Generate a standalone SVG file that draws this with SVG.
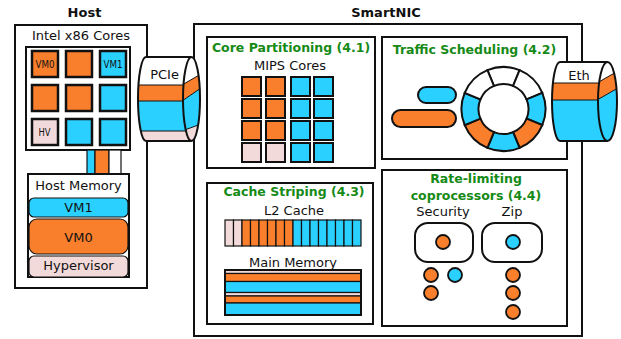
<svg xmlns="http://www.w3.org/2000/svg" width="621" height="339" viewBox="0 0 621 339">
<style>
text{font-family:"DejaVu Sans","Liberation Sans",sans-serif;fill:#111}
.t{font-size:13px;text-anchor:middle}
.h{font-size:13px;font-weight:bold;text-anchor:middle}
.g{font-size:12.5px;font-weight:bold;text-anchor:middle;fill:#168a16}
.sm{font-size:11px}
.box{fill:#fff;stroke:#111;stroke-width:2}
.o{fill:#fa7f2c}
.c{fill:#2ad0ff}
.p{fill:#f3dada}
.w{fill:#fff}
.sq{stroke:#111;stroke-width:2.5}
.ms{stroke:#111;stroke-width:2}
.thin{stroke:#111;stroke-width:1.2}
.ln{stroke:#111;stroke-width:1;fill:none}
.ol{fill:none;stroke:#111;stroke-width:2}
.dot{stroke:#111;stroke-width:1.8}
</style>
<defs>
<clipPath id="pcieBody"><path d="M146,57 H191 V141 H146 A8,42 0 0 1 146,57 Z"/></clipPath>
<clipPath id="pcieFace"><ellipse cx="191.5" cy="99" rx="8.5" ry="42"/></clipPath>
<clipPath id="ethBody"><path d="M560,62 H607.5 V141 H560 A8,39.5 0 0 1 560,62 Z"/></clipPath>
<clipPath id="ethFace"><ellipse cx="607.5" cy="101.5" rx="9.5" ry="39.5"/></clipPath>
</defs>

<g id="host">
<text class="h" x="84.5" y="17">Host</text>
<rect class="box" x="15" y="25" width="132" height="263"/>
<text class="t" x="81" y="40">Intel x86 Cores</text>
</g>

<g id="host-cores">
<rect class="box" x="26" y="47" width="104" height="103"/>
<rect class="o sq" x="32" y="51" width="26" height="26"/>
<rect class="o sq" x="66" y="51" width="26" height="26"/>
<rect class="c sq" x="100" y="51" width="26" height="26"/>
<rect class="o sq" x="32" y="85" width="26" height="26"/>
<rect class="o sq" x="66" y="85" width="26" height="26"/>
<rect class="c sq" x="100" y="85" width="26" height="26"/>
<rect class="p sq" x="32" y="119" width="26" height="26"/>
<rect class="c sq" x="66" y="119" width="26" height="26"/>
<rect class="c sq" x="100" y="119" width="26" height="26"/>
<text class="sm" x="35.5" y="68" textLength="19" lengthAdjust="spacingAndGlyphs">VM0</text>
<text class="sm" x="103.5" y="68" textLength="19" lengthAdjust="spacingAndGlyphs">VM1</text>
<text class="sm" x="38.5" y="136" textLength="12" lengthAdjust="spacingAndGlyphs">HV</text>
</g>

<g id="connectors">
<rect class="c thin" x="87" y="150" width="8" height="24"/>
<rect class="o thin" x="95" y="150" width="14" height="24"/>
<rect class="w thin" x="109" y="150" width="12" height="24"/>
</g>

<g id="host-memory">
<rect class="box" x="28" y="174" width="101" height="103"/>
<text class="t" x="78.5" y="190">Host Memory</text>
<rect class="c thin" x="29" y="198" width="99" height="19" rx="5"/>
<text class="t" x="78.5" y="212">VM1</text>
<rect class="o thin" x="29" y="219" width="99" height="35" rx="8"/>
<text class="t" x="78.5" y="242">VM0</text>
<rect class="p thin" x="29" y="256" width="99" height="21" rx="5"/>
<text class="t" x="78.5" y="270">Hypervisor</text>
</g>

<g id="smartnic">
<text class="h" x="386" y="17">SmartNIC</text>
<rect class="box" x="194" y="24" width="388" height="312"/>
</g>

<g id="core-partitioning">
<rect class="box" x="207" y="37" width="168" height="131"/>
<text class="g" x="291" y="52">Core Partitioning (4.1)</text>
<text class="t" x="290" y="70">MIPS Cores</text>
<rect class="o ms" x="242" y="77" width="19" height="19"/>
<rect class="o ms" x="266" y="77" width="19" height="19"/>
<rect class="c ms" x="291" y="77" width="19" height="19"/>
<rect class="c ms" x="314" y="77" width="19" height="19"/>
<rect class="o ms" x="242" y="99" width="19" height="19"/>
<rect class="o ms" x="266" y="99" width="19" height="19"/>
<rect class="c ms" x="291" y="99" width="19" height="19"/>
<rect class="c ms" x="314" y="99" width="19" height="19"/>
<rect class="o ms" x="242" y="121" width="19" height="19"/>
<rect class="o ms" x="266" y="121" width="19" height="19"/>
<rect class="c ms" x="291" y="121" width="19" height="19"/>
<rect class="c ms" x="314" y="121" width="19" height="19"/>
<rect class="p ms" x="242" y="143" width="19" height="19"/>
<rect class="p ms" x="266" y="143" width="19" height="19"/>
<rect class="c ms" x="291" y="143" width="19" height="19"/>
<rect class="c ms" x="314" y="143" width="19" height="19"/>
</g>

<g id="traffic-scheduling">
<rect class="box" x="382" y="37" width="185" height="122"/>
<text class="g" x="474.5" y="54">Traffic Scheduling (4.2)</text>
<rect class="c ms" x="418" y="87" width="38" height="16" rx="8"/>
<rect class="o ms" x="392" y="110" width="64" height="17" rx="8.5"/>
<g stroke="#111" stroke-width="2">
<path class="w" d="M487.43,70.20 A42,42 0 0 1 519.57,70.20 L513.07,85.90 A25,25 0 0 0 493.93,85.90 Z"/>
<path class="w" d="M519.57,70.20 A42,42 0 0 1 542.30,92.93 L526.60,99.43 A25,25 0 0 0 513.07,85.90 Z"/>
<path class="c" d="M542.30,92.93 A42,42 0 0 1 542.30,125.07 L526.60,118.57 A25,25 0 0 0 526.60,99.43 Z"/>
<path class="o" d="M542.30,125.07 A42,42 0 0 1 519.57,147.80 L513.07,132.10 A25,25 0 0 0 526.60,118.57 Z"/>
<path class="c" d="M519.57,147.80 A42,42 0 0 1 487.43,147.80 L493.93,132.10 A25,25 0 0 0 513.07,132.10 Z"/>
<path class="o" d="M487.43,147.80 A42,42 0 0 1 464.70,125.07 L480.40,118.57 A25,25 0 0 0 493.93,132.10 Z"/>
<path class="c" d="M464.70,125.07 A42,42 0 0 1 464.70,92.93 L480.40,99.43 A25,25 0 0 0 480.40,118.57 Z"/>
<path class="w" d="M464.70,92.93 A42,42 0 0 1 487.43,70.20 L493.93,85.90 A25,25 0 0 0 480.40,99.43 Z"/>
</g>
</g>

<g id="cache-striping">
<rect class="box" x="207" y="183" width="166" height="141"/>
<text class="g" x="294" y="196">Cache Striping (4.3)</text>
<text class="t" x="294" y="215">L2 Cache</text>
<g class="thin">
<rect class="p" x="225" y="220" width="8.5" height="26"/>
<rect class="p" x="233.5" y="220" width="8.5" height="26"/>
<rect class="o" x="242" y="220" width="8.5" height="26"/>
<rect class="o" x="250.5" y="220" width="8.5" height="26"/>
<rect class="o" x="259" y="220" width="8.5" height="26"/>
<rect class="o" x="267.5" y="220" width="8.5" height="26"/>
<rect class="o" x="276" y="220" width="8.5" height="26"/>
<rect class="o" x="284.5" y="220" width="8.5" height="26"/>
<rect class="c" x="293" y="220" width="8.5" height="26"/>
<rect class="c" x="301.5" y="220" width="8.5" height="26"/>
<rect class="c" x="310" y="220" width="8.5" height="26"/>
<rect class="c" x="318.5" y="220" width="8.5" height="26"/>
<rect class="c" x="327" y="220" width="8.5" height="26"/>
<rect class="c" x="335.5" y="220" width="8.5" height="26"/>
<rect class="c" x="344" y="220" width="8.5" height="26"/>
<rect class="c" x="352.5" y="220" width="8.5" height="26"/>
</g>
<text class="t" x="293" y="267">Main Memory</text>
<g class="thin">
<rect class="p" x="225" y="270" width="136" height="3.5"/>
<rect class="o" x="225" y="273.5" width="136" height="8"/>
<rect class="c" x="225" y="281.5" width="136" height="11"/>
<rect class="p" x="225" y="292.5" width="136" height="3.5"/>
<rect class="o" x="225" y="296" width="136" height="7"/>
<rect class="c" x="225" y="303" width="136" height="12"/>
</g>
<rect class="ol" x="225" y="270" width="136" height="45" stroke-width="1.5"/>
</g>

<g id="rate-limiting">
<rect class="box" x="382" y="170" width="185" height="156"/>
<text class="g" x="476" y="183">Rate-limiting</text>
<text class="g" x="476" y="200">coprocessors (4.4)</text>
<text class="t" x="443" y="216">Security</text>
<text class="t" x="512" y="216">Zip</text>
<rect class="ol" x="415" y="223" width="58" height="39" rx="13"/>
<rect class="ol" x="482" y="223" width="60" height="39" rx="13"/>
<circle class="o dot" cx="443" cy="242" r="7"/>
<circle class="c dot" cx="513" cy="242" r="7"/>
<circle class="o dot" cx="431" cy="275" r="7"/>
<circle class="c dot" cx="455" cy="275" r="7"/>
<circle class="o dot" cx="431" cy="293" r="7"/>
<circle class="o dot" cx="513" cy="275" r="7"/>
<circle class="o dot" cx="513" cy="293" r="7"/>
<circle class="o dot" cx="513" cy="312" r="7"/>
</g>

<g id="pcie">
<g clip-path="url(#pcieBody)">
<rect class="w" x="136" y="56" width="58" height="29"/>
<rect class="o" x="136" y="85" width="58" height="16"/>
<rect class="c" x="136" y="101" width="58" height="30"/>
<rect class="p" x="136" y="131" width="58" height="11"/>
<path class="ln" d="M136,85 H192 M136,101 H192 M136,131 H192"/>
</g>
<path class="ol" d="M191,57 H146 A8,42 0 0 0 146,141 H191"/>
<g clip-path="url(#pcieFace)">
<rect class="w" x="182" y="56" width="20" height="86"/>
<polygon class="o" points="182,85 201,74 201,88 182,101"/>
<polygon class="c" points="182,101 201,88 201,124 182,131"/>
<polygon class="p" points="182,131 201,124 201,142 182,142"/>
<path class="ln" d="M182,85 L201,74 M182,101 L201,88 M182,131 L201,124"/>
</g>
<ellipse class="ol" cx="191.5" cy="99" rx="8.5" ry="42"/>
<text class="t" x="164.5" y="79">PCIe</text>
</g>

<g id="eth">
<g clip-path="url(#ethBody)">
<rect class="w" x="550" y="61" width="60" height="22"/>
<rect class="o" x="550" y="83" width="60" height="17"/>
<rect class="c" x="550" y="100" width="60" height="42"/>
<path class="ln" d="M550,83 H608 M550,100 H608"/>
</g>
<path class="ol" d="M607.5,62 H560 A8,39.5 0 0 0 560,141 H607.5"/>
<g clip-path="url(#ethFace)">
<rect class="w" x="597" y="61" width="22" height="81"/>
<polygon class="o" points="597,83 618,71 618,88 597,100"/>
<polygon class="c" points="597,100 618,88 618,142 597,142"/>
<path class="ln" d="M597,83 L618,71 M597,100 L618,88"/>
</g>
<ellipse class="ol" cx="607.5" cy="101.5" rx="9.5" ry="39.5"/>
<text class="t" x="579" y="80">Eth</text>
</g>
</svg>
